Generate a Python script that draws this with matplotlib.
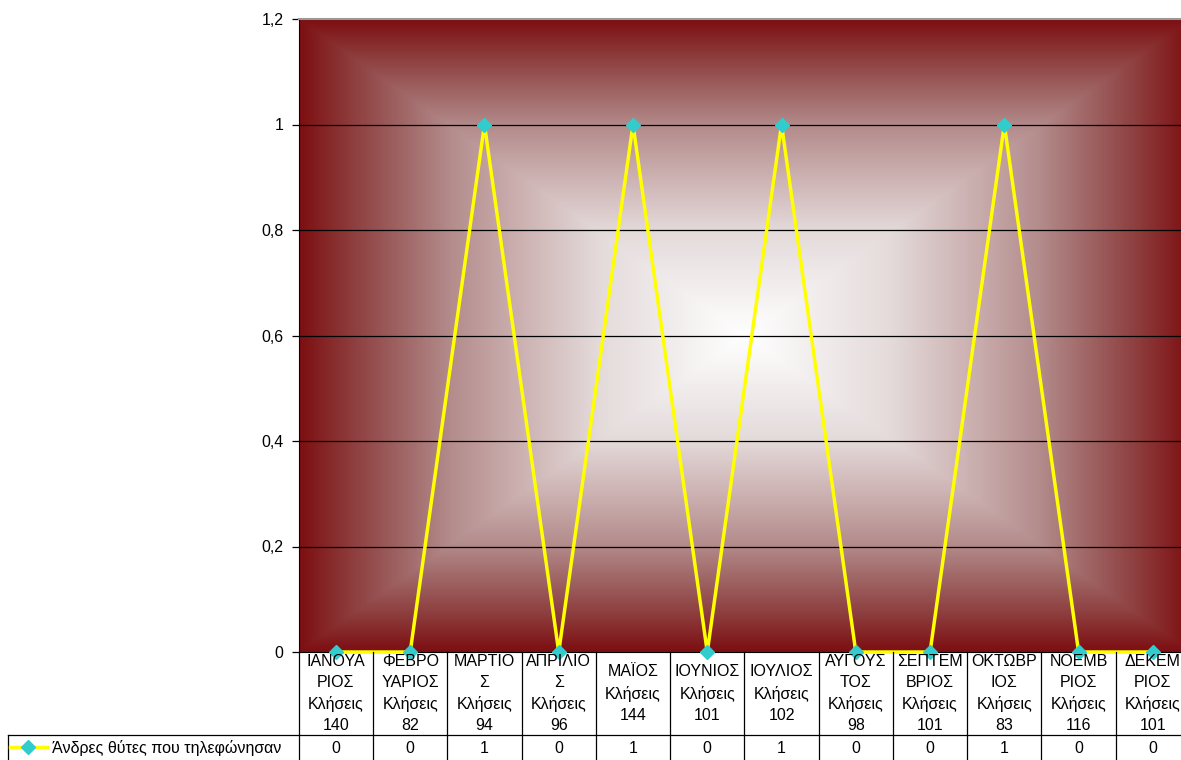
import numpy as np
import matplotlib.pyplot as plt
from matplotlib.lines import Line2D
from matplotlib import font_manager

names = {f.name for f in font_manager.fontManager.ttflist}
if 'Liberation Sans Narrow' in names:
    plt.rcParams['font.family'] = ['Liberation Sans Narrow', 'DejaVu Sans']
    fs, tfs = 14.5, 14.5
else:
    plt.rcParams['font.family'] = ['Liberation Sans', 'DejaVu Sans']
    fs, tfs = 11.5, 11.5

months = ["ΙΑΝΟΥΑ\nΡΙΟΣ", "ΦΕΒΡΟ\nΥΑΡΙΟΣ", "ΜΑΡΤΙΟ\nΣ", "ΑΠΡΙΛΙΟ\nΣ", "ΜΑΪΟΣ",
          "ΙΟΥΝΙΟΣ", "ΙΟΥΛΙΟΣ", "ΑΥΓΟΥΣ\nΤΟΣ", "ΣΕΠΤΕΜ\nΒΡΙΟΣ", "ΟΚΤΩΒΡ\nΙΟΣ",
          "ΝΟΕΜΒ\nΡΙΟΣ", "ΔΕΚΕΜ\nΡΙΟΣ"]
calls = [140, 82, 94, 96, 144, 101, 102, 98, 101, 83, 116, 101]
values = [0, 0, 1, 0, 1, 0, 1, 0, 0, 1, 0, 0]
series_name = "Άνδρες θύτες που τηλεφώνησαν"
yticks = [0, 0.2, 0.4, 0.6, 0.8, 1.0, 1.2]
ytick_labels = ["0", "0,2", "0,4", "0,6", "0,8", "1", "1,2"]

# background fill colour stops (distance from centre -> rgb)
grad_pos = [0.0, 0.33, 0.5, 0.66, 0.78, 0.88, 1.0]
grad_rgb = [(255, 255, 255), (228, 218, 218), (205, 178, 178), (180, 140, 140),
            (158, 98, 98), (142, 62, 62), (125, 15, 18)]

W, H = 1181, 760
fig = plt.figure(figsize=(W / 100, H / 100), dpi=100)

x0, x1 = 298.8, 1190.0
y_top, y_axis, y_row = 19, 652, 735
n = len(months)
x = np.arange(n)

ax = fig.add_axes([x0 / W, (H - y_axis) / H, (x1 - x0) / W, (y_axis - y_top) / H])
ax.set_xlim(-0.5, n - 0.5)
ax.set_ylim(0, 1.2)

# rectangular gradient background (dark red edges -> white centre)
gx = np.linspace(-1, 1, 400)
gy = np.linspace(-1, 1, 300)
GX, GY = np.meshgrid(gx, gy)
t = np.maximum(np.abs(GX), np.abs(GY))
rgb = np.array(grad_rgb) / 255.0
img = np.stack([np.interp(t, grad_pos, rgb[:, k]) for k in range(3)], axis=-1)
ax.imshow(img, extent=[-0.5, n - 0.5, 0, 1.2], aspect='auto', zorder=0, interpolation='bilinear')

for yv in yticks[1:-1]:
    ax.axhline(yv, color='black', lw=0.9, zorder=1)

line, = ax.plot(x, values, color='#FFFF00', lw=2.5, marker='D', markersize=7.5,
                markerfacecolor='#33CCCC', markeredgecolor='#33CCCC', zorder=3, clip_on=False)

ax.set_yticks(yticks)
ax.set_yticklabels(ytick_labels, fontsize=tfs)
ax.set_xticks([])
ax.tick_params(axis='y', direction='out', length=5, width=0.9, pad=6)
ax.spines['left'].set_color('black')
ax.spines['bottom'].set_color('black')
ax.spines['top'].set_color('#999999')
ax.spines['top'].set_linewidth(1.5)
ax.spines['right'].set_visible(False)

# data table: header row with month names and calls
hx = fig.add_axes([x0 / W, (H - y_row) / H, (x1 - x0) / W, (y_row - y_axis) / H])
hx.set_xlim(-0.5, n - 0.5)
hx.set_ylim(0, 1)
hx.axis('off')
for i, (m, c) in enumerate(zip(months, calls)):
    hx.text(i, 0.5, f"{m}\nΚλήσεις\n{c}", ha='center', va='center', fontsize=fs,
            linespacing=1.5, clip_on=True)
for b in np.arange(-0.5, n, 1.0):
    hx.plot([b, b], [0, 1], color='black', lw=0.9, clip_on=False)

# data table: values row
left_px = 8
vx = fig.add_axes([left_px / W, 0, (x1 - left_px) / W, (H - y_row) / H])
vx.set_xlim(-0.5 - (x0 - left_px) / ((x1 - x0) / n), n - 0.5)
vx.set_ylim(0, 1)
vx.axis('off')
for i, v in enumerate(values):
    vx.text(i, 0.45, str(v), ha='center', va='center', fontsize=fs)
xmin = vx.get_xlim()[0]
for b in list(np.arange(-0.5, n, 1.0)) + [xmin]:
    vx.plot([b, b], [0, 1], color='black', lw=0.9, clip_on=False)
vx.plot([xmin, n - 0.5], [1, 1], color='black', lw=0.9, clip_on=False)

handle = Line2D([], [], color='#FFFF00', lw=2.5, marker='D', markersize=7.5,
                markerfacecolor='#33CCCC', markeredgecolor='#33CCCC')
fig.legend([handle], [series_name], loc='center left',
           bbox_to_anchor=(10 / W, 12.5 / H), frameon=False, fontsize=fs,
           handlelength=2.3, handletextpad=0.3, borderpad=0, borderaxespad=0)

fig.savefig("out.png", dpi=100)
